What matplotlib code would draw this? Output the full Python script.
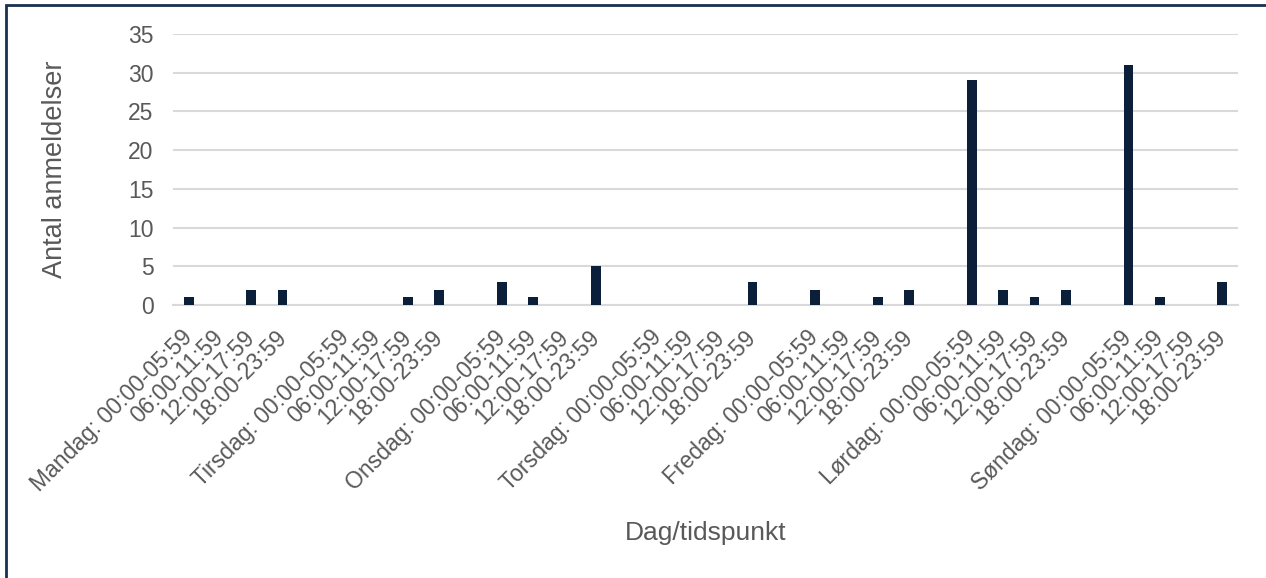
import matplotlib
matplotlib.use("Agg")
import matplotlib.pyplot as plt
from matplotlib.patches import Rectangle
import numpy as np

days = ["Mandag", "Tirsdag", "Onsdag", "Torsdag", "Fredag", "Lørdag", "Søndag"]
slots = ["00:00-05:59", "06:00-11:59", "12:00-17:59", "18:00-23:59"]
mandag = [1, 0, 2, 2]
tirsdag = [0, 0, 1, 2]
onsdag = [3, 1, 0, 5]
torsdag = [0, 0, 0, 3]
fredag = [2, 0, 1, 2]
loerdag = [29, 2, 1, 2]
soendag = [31, 1, 0, 3]
day_values = [mandag, tirsdag, onsdag, torsdag, fredag, loerdag, soendag]

y_ticks = [0, 5, 10, 15, 20, 25, 30, 35]
y_label = "Antal anmeldelser"
x_label = "Dag/tidspunkt"

# Build category list with an empty slot between days
labels = []
values = []
for d, (day, vals) in enumerate(zip(days, day_values)):
    for s, (slot, v) in enumerate(zip(slots, vals)):
        labels.append(f"{day}: {slot}" if s == 0 else slot)
        values.append(v)
    if d < len(days) - 1:
        labels.append("")
        values.append(0)

plt.rcParams['font.family'] = ['Liberation Sans', 'DejaVu Sans']
text_color = "#595959"
bar_color = "#0b1f3a"
grid_color = "#d9d9d9"

fig = plt.figure(figsize=(12.66, 5.78), dpi=100)
W, H = 1266, 578
left, right, top, bottom = 173, 1238, 34, 305
ax = fig.add_axes([left / W, 1 - bottom / H, (right - left) / W, (bottom - top) / H])

x = np.arange(len(labels))
ax.bar(x, values, width=0.31, color=bar_color, zorder=3)

ax.set_xlim(-0.5, len(labels) - 0.5)
ax.set_ylim(0, 35)
ax.set_yticks(y_ticks)
ax.yaxis.grid(True, color=grid_color, linewidth=1.5, zorder=0)
ax.set_axisbelow(True)
for sp in ["top", "right", "left"]:
    ax.spines[sp].set_visible(False)
ax.spines["bottom"].set_color(grid_color)
ax.spines["bottom"].set_linewidth(1.5)

ax.tick_params(axis="y", length=0, pad=14, labelsize=16.5, labelcolor=text_color)
ax.tick_params(axis="x", length=0, pad=21, labelsize=16.5, labelcolor=text_color)
ax.set_xticks(x)
ax.set_xticklabels(labels, rotation=45, ha="right", va="center", rotation_mode="anchor")

ax.set_ylabel(y_label, fontsize=19.5, color=text_color)
ax.yaxis.label.set_va("center")
ax.yaxis.set_label_coords((55 - left) / (right - left), 0.5)
ax.set_xlabel(x_label, fontsize=19, color=text_color)
ax.xaxis.label.set_va("center")
ax.xaxis.set_label_coords(0.5, (bottom - 533) / (bottom - top))

# outer chart border (left and top visible)
fig.patches.append(Rectangle((5.5 / W, -0.1), 1.2, 1 - 5.5 / H + 0.1,
                             transform=fig.transFigure, fill=False,
                             edgecolor="#1a3050", linewidth=2))

fig.savefig("out.png", dpi=100)
